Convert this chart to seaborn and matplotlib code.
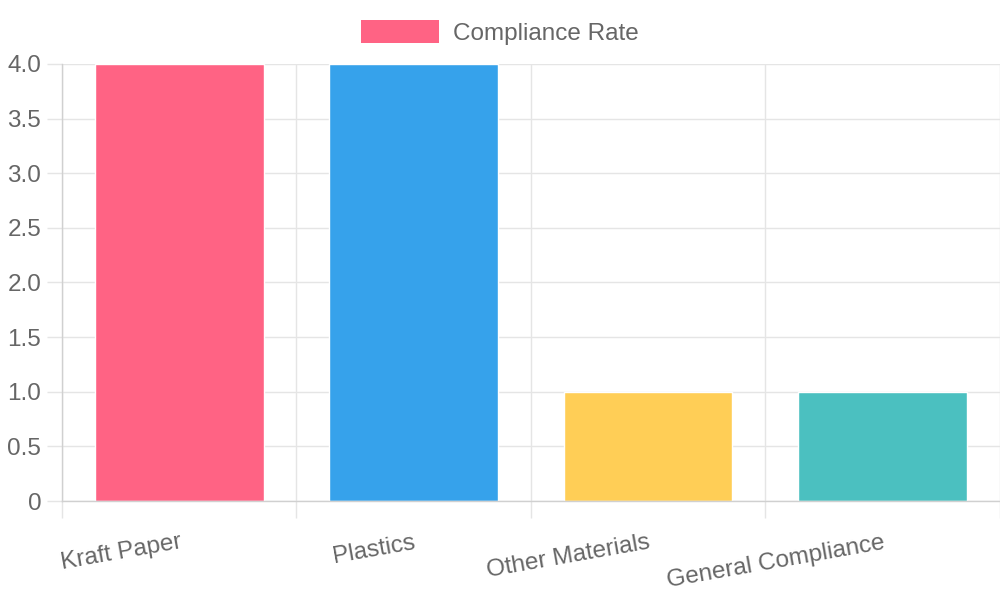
import matplotlib
matplotlib.use("Agg")
import matplotlib.pyplot as plt
import seaborn as sns
import pandas as pd
from matplotlib.patches import Patch

categories = ["Kraft Paper", "Plastics", "Other Materials", "General Compliance"]
values = [4, 4, 1, 1]
colors = ["#FF6384", "#36A2EB", "#FFCE56", "#4BC0C0"]
series_label = "Compliance Rate"
yticks = [0, 0.5, 1.0, 1.5, 2.0, 2.5, 3.0, 3.5, 4.0]
ytick_labels = ["0", "0.5", "1.0", "1.5", "2.0", "2.5", "3.0", "3.5", "4.0"]

sns.set_theme(style="white")
plt.rcParams['font.family'] = ['Liberation Sans', 'DejaVu Sans']

text_color = "#666666"
grid_color = "#e5e5e5"
axis_color = "#d0d0d0"

fig = plt.figure(figsize=(10, 6), dpi=100)
ax = fig.add_axes([0.062, 0.165, 0.9375, 0.7285])

df = pd.DataFrame({"category": categories, "value": values})
sns.barplot(data=df, x="category", y="value", hue="category", palette=colors,
            legend=False, width=0.72, saturation=1, ax=ax, zorder=2)

ax.set_xlim(-0.5, len(categories) - 0.5)
ax.set_ylim(0, 4.0)
ax.set_xlabel("")
ax.set_ylabel("")

ax.set_yticks(yticks)
ax.set_yticklabels(ytick_labels)
ax.tick_params(axis="y", length=11, width=1, color=grid_color, pad=4,
               labelsize=17.5, labelcolor=text_color, left=True)
ax.yaxis.grid(True, color=grid_color, linewidth=1, zorder=0)

ax.set_xticks(range(len(categories)))
ax.set_xticklabels(categories, rotation=10, ha="right", va="top",
                   rotation_mode="anchor")
ax.set_xticks([i - 0.5 for i in range(len(categories) + 1)], minor=True)
ax.tick_params(axis="x", which="major", length=0, pad=22, labelsize=17.5,
               labelcolor=text_color, bottom=True)
ax.tick_params(axis="x", which="minor", length=12, width=1, color=grid_color,
               bottom=True)
ax.xaxis.grid(True, which="minor", color=grid_color, linewidth=1, zorder=0)
ax.xaxis.grid(False, which="major")
ax.set_axisbelow(True)

for s in ["top", "right"]:
    ax.spines[s].set_visible(False)
ax.spines["left"].set_color(axis_color)
ax.spines["bottom"].set_color(axis_color)
ax.spines["left"].set_linewidth(1)
ax.spines["bottom"].set_linewidth(1)

handle = Patch(facecolor=colors[0], edgecolor="none")
fig.legend([handle], [series_label], loc="upper center",
           bbox_to_anchor=(0.5, 1.003), frameon=False, fontsize=17.5,
           labelcolor=text_color, handlelength=3.2, handleheight=1.1,
           handletextpad=0.58)

fig.savefig("out.png", dpi=100)
